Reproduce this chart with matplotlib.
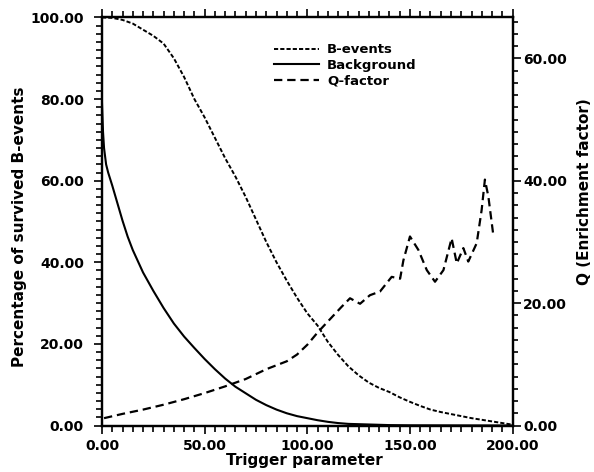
import matplotlib
matplotlib.use('Agg')
import matplotlib.pyplot as plt
from matplotlib.ticker import MultipleLocator, FormatStrFormatter

plt.rcParams['font.family'] = 'DejaVu Sans'
plt.rcParams['font.weight'] = 'bold'
plt.rcParams['axes.labelweight'] = 'bold'
plt.rcParams['lines.scale_dashes'] = False

# B-events survival (%)
b_x = [0, 5, 10, 15, 20, 25, 30, 35, 40, 45, 50, 55, 60, 65, 70, 75, 80,
       85, 90, 95, 100, 105, 110, 115, 120, 125, 130, 135, 140, 145, 150,
       155, 160, 165, 170, 175, 180, 185, 190, 195, 200]
b_y = [100, 99.9, 99.4, 98.5, 97, 95.5, 93.6, 90, 85.4, 80, 75.5, 70.5,
       65.5, 61, 56, 50.5, 45, 40, 35.5, 31.3, 27.5, 24.5, 20.5, 17.3, 14.5,
       12.3, 10.5, 9.2, 8.2, 6.9, 5.8, 4.8, 3.9, 3.3, 2.8, 2.3, 1.8, 1.4,
       1.0, 0.6, 0.2]

# Background survival (%)
bg_x = [0, 0.5, 1, 2, 3, 5, 7.5, 10, 12.5, 15, 20, 25, 30, 35, 40, 45, 50,
        55, 60, 65, 70, 75, 80, 85, 90, 95, 100, 105, 110, 115, 120, 130,
        140, 150, 200]
bg_y = [79, 72, 68, 64, 62, 58.8, 54.5, 50.2, 46.3, 43, 37.5, 33, 28.8, 25,
        21.8, 19, 16.3, 13.8, 11.5, 9.5, 7.9, 6.3, 5.0, 3.9, 3.0, 2.3, 1.8,
        1.3, 0.9, 0.6, 0.4, 0.25, 0.1, 0.05, 0]

# Q-factor (enrichment)
q_x = [1, 10, 20, 30, 40, 50, 60, 70, 80, 90, 95, 100, 105, 110, 116.7,
       120.8, 125.7, 130.5, 135.4, 141.1, 145.2, 146.8, 150, 154.1, 158.2,
       162.2, 166.3, 170.3, 172.8, 176, 178.4, 182.5, 184.9, 186.5, 188.2,
       190.6]
q_y = [1.2, 1.9, 2.6, 3.4, 4.3, 5.3, 6.4, 7.6, 9.2, 10.5, 11.6, 13.2, 15.2,
       17.0, 19.4, 20.8, 19.9, 21.3, 21.9, 24.3, 24.0, 27.0, 30.9, 28.7,
       25.4, 23.5, 25.4, 30.6, 26.5, 29.0, 26.8, 29.8, 35.2, 40.2, 37.4,
       31.1]

fig = plt.figure(figsize=(5.94, 4.72), dpi=100)
ax = fig.add_axes([0.1717, 0.0985, 0.6913, 0.8645])
ax2 = ax.twinx()

l1, = ax.plot(b_x, b_y, color='black', linewidth=1.4, dashes=(3, 1.5),
              label='B-events')
l2, = ax.plot(bg_x, bg_y, color='black', linewidth=1.5, label='Background')
l3, = ax2.plot(q_x, q_y, color='black', linewidth=1.6, dashes=(6, 3.5),
               label='Q-factor')

ax.set_xlim(0, 200)
ax.set_ylim(0, 100)
ax2.set_ylim(0, 66.7)

ax.xaxis.set_major_locator(MultipleLocator(50))
ax.xaxis.set_minor_locator(MultipleLocator(5))
ax.yaxis.set_major_locator(MultipleLocator(20))
ax.yaxis.set_minor_locator(MultipleLocator(2))
ax2.yaxis.set_major_locator(MultipleLocator(20))
ax2.yaxis.set_minor_locator(MultipleLocator(2))
for a in (ax.xaxis, ax.yaxis, ax2.yaxis):
    a.set_major_formatter(FormatStrFormatter('%.2f'))

for a in (ax, ax2):
    for s in a.spines.values():
        s.set_linewidth(1.6)

ax.tick_params(axis='x', which='both', top=True, direction='out',
               width=1.2, labelsize=10, pad=4)
ax.tick_params(axis='x', which='major', length=6)
ax.tick_params(axis='x', which='minor', length=4.5)
ax.tick_params(axis='y', which='both', direction='out', width=1.2,
               labelsize=10, pad=7, right=False)
ax.tick_params(axis='y', which='major', length=6)
ax.tick_params(axis='y', which='minor', length=4.5)
ax2.tick_params(axis='y', which='both', direction='out', width=1.2,
                labelsize=10, pad=2)
ax2.tick_params(axis='y', which='major', length=5.5)
ax2.tick_params(axis='y', which='minor', length=3.5)

ax.set_xlabel('Trigger parameter', fontsize=11)
ax.set_ylabel('Percentage of survived B-events', fontsize=11)
ax2.set_ylabel('Q (Enrichment factor)', fontsize=11)
ax.xaxis.set_label_coords(0.494, -0.067)
ax.yaxis.set_label_coords(-0.183, 0.4865)
ax2.yaxis.set_label_coords(1.157, 0.572)

ax.legend(handles=[l1, l2, l3], loc='upper left',
          bbox_to_anchor=(0.42, 0.937), frameon=False, fontsize=9.5,
          handlelength=3.4, handletextpad=0.6, labelspacing=0.2,
          borderaxespad=0, borderpad=0)

fig.savefig('out.png', dpi=100, facecolor='white')
